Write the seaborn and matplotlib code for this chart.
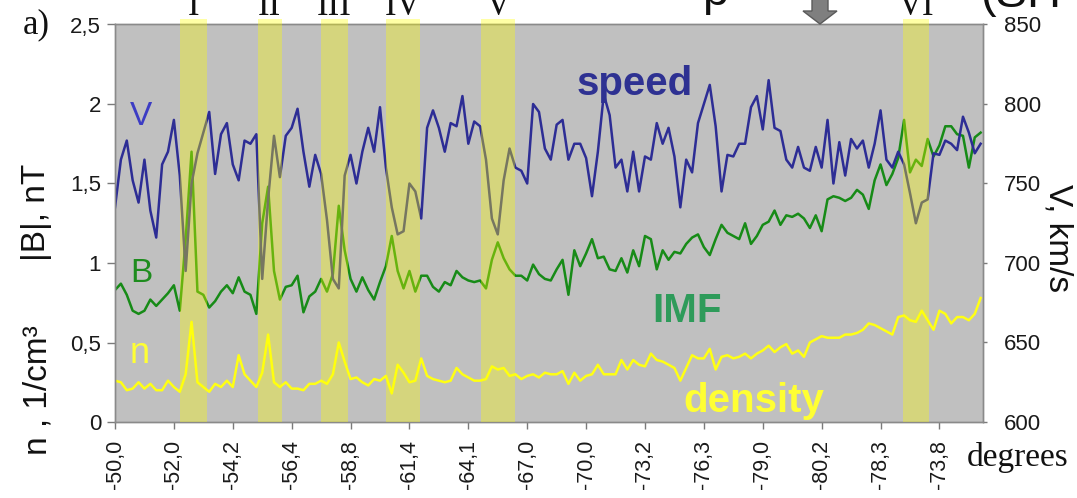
import numpy as np
import pandas as pd
import matplotlib
matplotlib.use("Agg")
import matplotlib.pyplot as plt
import seaborn as sns
from matplotlib.patches import Polygon

# ---- data -------------------------------------------------------------
speed = [735, 765, 777, 752, 738, 765, 733, 716, 762, 770,
         790, 755, 695, 750, 769, 782, 795, 756, 781, 788,
         762, 752, 777, 775, 781, 690, 740, 780, 754, 780,
         785, 797, 770, 748, 768, 756, 727, 690, 684, 755,
         768, 750, 770, 785, 770, 798, 760, 735, 718, 720,
         750, 745, 728, 785, 796, 785, 770, 788, 786, 805,
         775, 789, 786, 765, 728, 718, 752, 772, 760, 758,
         750, 800, 795, 772, 765, 787, 790, 765, 775, 775,
         766, 742, 770, 806, 793, 760, 765, 745, 770, 745,
         767, 765, 788, 775, 785, 767, 735, 765, 757, 788,
         800, 812, 786, 745, 768, 767, 775, 775, 798, 805,
         784, 815, 785, 783, 765, 760, 773, 760, 758, 773,
         760, 790, 750, 776, 755, 778, 772, 777, 760, 775,
         796, 765, 760, 770, 762, 744, 725, 738, 740, 769,
         768, 777, 775, 771, 792, 782, 769, 775]

imf = [0.83, 0.87, 0.80, 0.70, 0.68, 0.70, 0.77, 0.73, 0.77, 0.81,
       0.86, 0.70, 1.15, 1.70, 0.82, 0.80, 0.72, 0.76, 0.82, 0.86,
       0.81, 0.91, 0.82, 0.80, 0.68, 1.25, 1.48, 0.95, 0.77, 0.85,
       0.86, 0.92, 0.69, 0.79, 0.82, 0.90, 0.82, 0.93, 1.36, 1.08,
       0.90, 0.82, 0.91, 0.83, 0.77, 0.88, 0.98, 1.17, 0.95, 0.84,
       0.95, 0.82, 0.92, 0.92, 0.85, 0.82, 0.88, 0.86, 0.95, 0.91,
       0.89, 0.88, 0.89, 0.84, 1.02, 1.13, 1.03, 0.96, 0.92, 0.92,
       0.89, 0.99, 0.93, 0.90, 0.89, 0.96, 1.02, 0.80, 1.08, 0.98,
       1.06, 1.15, 1.03, 1.04, 0.96, 0.95, 1.03, 0.94, 1.08, 0.98,
       1.17, 1.15, 0.96, 1.08, 1.02, 1.07, 1.06, 1.12, 1.16, 1.18,
       1.10, 1.05, 1.15, 1.24, 1.19, 1.17, 1.15, 1.25, 1.12, 1.17,
       1.24, 1.26, 1.33, 1.24, 1.30, 1.29, 1.31, 1.28, 1.22, 1.30,
       1.20, 1.40, 1.42, 1.41, 1.39, 1.41, 1.46, 1.43, 1.34, 1.52,
       1.62, 1.49, 1.56, 1.66, 1.90, 1.57, 1.65, 1.61, 1.78, 1.67,
       1.74, 1.86, 1.86, 1.81, 1.80, 1.60, 1.79, 1.82]

density = [0.26, 0.25, 0.20, 0.21, 0.25, 0.21, 0.24, 0.20, 0.20, 0.26,
           0.22, 0.19, 0.30, 0.63, 0.25, 0.22, 0.19, 0.24, 0.22, 0.26,
           0.22, 0.42, 0.30, 0.26, 0.22, 0.31, 0.55, 0.25, 0.22, 0.25,
           0.21, 0.21, 0.20, 0.24, 0.24, 0.26, 0.24, 0.30, 0.50, 0.38,
           0.27, 0.28, 0.25, 0.23, 0.27, 0.26, 0.29, 0.18, 0.36, 0.31,
           0.25, 0.26, 0.40, 0.29, 0.27, 0.26, 0.25, 0.26, 0.34, 0.30,
           0.28, 0.26, 0.26, 0.27, 0.35, 0.33, 0.34, 0.29, 0.30, 0.27,
           0.29, 0.30, 0.28, 0.31, 0.30, 0.30, 0.32, 0.24, 0.31, 0.26,
           0.29, 0.30, 0.36, 0.30, 0.30, 0.30, 0.39, 0.33, 0.39, 0.36,
           0.35, 0.43, 0.39, 0.38, 0.36, 0.34, 0.26, 0.34, 0.42, 0.40,
           0.40, 0.46, 0.33, 0.41, 0.42, 0.40, 0.41, 0.43, 0.40, 0.43,
           0.45, 0.48, 0.44, 0.47, 0.49, 0.43, 0.45, 0.41, 0.50, 0.52,
           0.54, 0.53, 0.53, 0.53, 0.55, 0.55, 0.56, 0.58, 0.62, 0.61,
           0.59, 0.57, 0.55, 0.66, 0.67, 0.64, 0.63, 0.70, 0.64, 0.58,
           0.70, 0.68, 0.62, 0.66, 0.66, 0.64, 0.68, 0.78]

degree_labels = ["-50,0", "-52,0", "-54,2", "-56,4", "-58,8", "-61,4", "-64,1",
                 "-67,0", "-70,0", "-73,2", "-76,3", "-79,0", "-80,2", "-78,3",
                 "-73,8"]

# highlighted intervals (sample index) and their names
band_names = ["I", "II", "III", "IV", "V", "VI"]
band_start = [11.0, 24.2, 35.0, 46.1, 62.1, 133.8]
band_end = [15.6, 28.3, 39.5, 51.8, 67.9, 138.2]

b_ticks = [0, 0.5, 1, 1.5, 2, 2.5]
b_tick_labels = ["0", "0,5", "1", "1,5", "2", "2,5"]
v_ticks = [600, 650, 700, 750, 800, 850]

# ---- figure -----------------------------------------------------------
W, H = 1077, 498
plt.rcParams["font.family"] = ["Liberation Sans", "DejaVu Sans"]

fig = plt.figure(figsize=(W / 100, H / 100), dpi=100)
ax = fig.add_axes([115 / W, 1 - 422 / H, (983 - 115) / W, (422 - 24.5) / H])
ax.set_facecolor("#C0C0C0")
ax2 = ax.twinx()

df = pd.DataFrame({"pos": np.arange(len(speed)), "V": speed,
                   "B": imf, "n": density})

sns.lineplot(data=df, x="pos", y="B", ax=ax, color="#178B17", lw=1.8, legend=False)
sns.lineplot(data=df, x="pos", y="n", ax=ax, color="#FFFF14", lw=1.8, legend=False)
sns.lineplot(data=df, x="pos", y="V", ax=ax2, color="#2D2D95", lw=1.8, legend=False)

for a, b in zip(band_start, band_end):
    ax2.axvspan(a, b, ymin=0, ymax=1.013, color="#FFFF00", alpha=0.35,
                lw=0, zorder=5, clip_on=False)

ax.set_xlim(0, 147.4)
ax.set_ylim(0, 2.5)
ax2.set_ylim(600, 850)
ax.set_xticks(range(0, 141, 10))
ax.set_xticklabels(degree_labels, rotation=90)
ax.set_yticks(b_ticks)
ax.set_yticklabels(b_tick_labels)
ax2.set_yticks(v_ticks)
ax2.set_yticklabels([str(v) for v in v_ticks])
for a_ in (ax, ax2):
    a_.set_xlabel("")
    a_.set_ylabel("")
    for s in a_.spines.values():
        s.set_color("#8A8A8A")
        s.set_linewidth(1.0)

tick_col = "#7A7A7A"
ax.tick_params(axis="y", length=6, width=1, color=tick_col, pad=4,
               labelsize=16, labelcolor="#1A1A1A")
ax.tick_params(axis="x", length=5, width=1, color=tick_col, pad=8,
               labelsize=15.5, labelcolor="#1A1A1A")
ax2.tick_params(axis="y", length=3, width=1, color=tick_col, pad=12,
                labelsize=16, labelcolor="#1A1A1A")


def fx(px):
    return px / W


def fy(py):
    return 1 - py / H


# band names above the panel
for name, a, b in zip(band_names, band_start, band_end):
    ax2.text((a + b) / 2, 1.024, name, transform=ax2.get_xaxis_transform(),
             ha="center", va="baseline", fontsize=25, family="Liberation Serif",
             color="#111111", clip_on=False)

# axis titles
fig.text(fx(36), fy(212), "|B|, nT", rotation=90, ha="center", va="center",
         fontsize=24, color="#111111")
fig.text(fx(38), fy(390), "n , 1/cm³", rotation=90, ha="center", va="center",
         fontsize=24, color="#111111")
fig.text(fx(1058), fy(238), "V, km/s", rotation=270, ha="center", va="center",
         fontsize=24, color="#111111")

# series tags
fig.text(fx(130), fy(125), "V", fontsize=24, color="#3C3CC4", va="baseline")
fig.text(fx(130), fy(282), "B", fontsize=24, color="#1E8C1E", va="baseline")
fig.text(fx(130), fy(363), "n", fontsize=26, color="#FFFF33", va="baseline")
fig.text(fx(577), fy(95), "speed", fontsize=29, fontweight="bold",
         color="#2E3192", va="baseline")
fig.text(fx(652), fy(322), "IMF", fontsize=29, fontweight="bold",
         color="#2E9B5A", va="baseline")
fig.text(fx(683), fy(412), "density", fontsize=29, fontweight="bold",
         color="#FFFF33", va="baseline")

# panel letter and x unit
fig.text(fx(23), fy(33), "a)", fontsize=25, family="Liberation Serif",
         color="#111111", va="baseline")
fig.text(fx(967), fy(466), "degrees", fontsize=24, family="Liberation Serif",
         color="#111111", va="baseline")

# heading fragments along the top edge
fig.text(fx(702), fy(5), "p", fontsize=34, color="#111111", va="baseline")
fig.text(fx(980), fy(7), "(SH", fontsize=34, color="#111111", va="baseline")

# marker arrow
arrow_px = [(812, -2), (828, -2), (828, 11), (837, 11), (820, 24),
            (803, 11), (812, 11)]
fig.add_artist(Polygon([(fx(x), fy(y)) for x, y in arrow_px], closed=True,
                       transform=fig.transFigure, facecolor="#7F7F7F",
                       edgecolor="#5A5A5A", lw=1, clip_on=False))

fig.savefig("out.png", dpi=100)
